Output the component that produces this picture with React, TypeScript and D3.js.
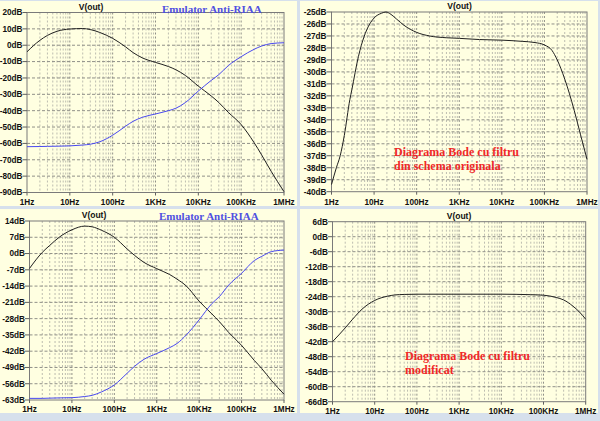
import React from "react";
import * as d3 from "d3";

const freqTicks = [1, 10, 100, 1e3, 1e4, 1e5, 1e6];
const freqLabels = ["1Hz", "10Hz", "100Hz", "1KHz", "10KHz", "100KHz", "1MHz"];

// Panel 1 (top-left)
const p1Freq = [1, 2, 3, 5, 10, 20, 30, 50, 100, 200, 300, 500, 1e3, 2e3, 3e3, 5e3, 1e4, 2e4, 3e4, 5e4, 1e5, 2e5, 3e5, 5e5, 1e6];
const p1Black = [-4, 3, 6, 8.5, 9.9, 10.2, 9.6, 7.8, 4.2, -1, -4.5, -7.8, -10.5, -13, -15, -18.5, -25, -31, -35, -41, -48.5, -59.5, -67, -77, -89.5];
const p1Blue = [-62, -61.9, -61.8, -61.7, -61.5, -61, -60.5, -59, -55, -49.5, -46.5, -44, -42, -40, -38.5, -35, -28, -21.5, -18, -12.5, -7, -2.5, -0.5, 1, 1.5];
const p1YTicks = [20, 10, 0, -10, -20, -30, -40, -50, -60, -70, -80, -90];

// Panel 2 (top-right)
const p2Freq = [1, 1.3, 1.6, 2, 2.7, 3, 4.3, 5, 6.7, 10, 15, 19, 25, 34, 50, 100, 200, 500, 1e3, 3e3, 1e4, 3e4, 6e4, 1e5, 1.5e5, 2e5, 3e5, 5e5, 7e5, 1e6];
const p2Black = [-39.4, -38, -37, -35.3, -32.3, -31.5, -28.7, -27.8, -26.5, -25.5, -25.1, -25.0, -25.2, -25.6, -26.1, -26.7, -27.0, -27.15, -27.2, -27.3, -27.35, -27.45, -27.55, -27.75, -28.2, -29, -30.6, -33.2, -35.2, -37.3];
const p2YTicks = [-25, -26, -27, -28, -29, -30, -31, -32, -33, -34, -35, -36, -37, -38, -39, -40];

// Panel 3 (bottom-left)
const p3Freq = [1, 2, 3, 5, 10, 20, 30, 50, 100, 200, 300, 500, 1e3, 2e3, 3e3, 5e3, 1e4, 2e4, 3e4, 5e4, 1e5, 2e5, 3e5, 5e5, 1e6];
const p3Black = [-6.4, 0.5, 3.5, 7, 10.2, 11.8, 11.5, 10, 7, 2, -0.8, -3.8, -6.5, -9, -11, -14, -20.5, -26, -29.3, -34, -39.5, -46, -49.5, -54.5, -60.5];
const p3Blue = [-62.3, -62.3, -62.2, -62.1, -62, -61.5, -61, -59.5, -56.5, -51.5, -48.5, -45.5, -43, -40.5, -38.7, -35, -28.5, -21.5, -18.5, -13.5, -8.5, -3, -1.2, 0.8, 1.5];
const p3YTicks = [14, 7, 0, -7, -14, -21, -28, -35, -42, -49, -56, -63];

// Panel 4 (bottom-right)
const p4Freq = [1, 2, 3, 5, 10, 20, 30, 50, 100, 1e3, 1e4, 5e4, 1e5, 2e5, 3e5, 5e5, 7e5, 1e6];
const p4Black = [-42, -36.5, -33, -29, -25.5, -23.8, -23.3, -23.1, -23, -23, -23, -23.2, -23.4, -24.3, -25.3, -27.8, -30, -33];
const p4YTicks = [6, 0, -6, -12, -18, -24, -30, -36, -42, -48, -54, -60, -66];

const minorFreqs: number[] = [];
for (let d = 1; d < 1e6; d *= 10) for (let k = 2; k <= 9; k++) minorFreqs.push(d * k);

type Series = { freq: number[]; values: number[]; color: string };

type PanelProps = {
  box: [number, number, number, number];
  plot: [number, number, number, number];
  yTicks: number[];
  series: Series[];
  titleX: number;
  blueTitle?: [number, number];
  redText?: [number, number, string, string];
  labelRight: number;
  xLabelY: number;
};

const tickFont = "'Liberation Sans', Arial, sans-serif";
const serifFont = "'Liberation Serif', 'Times New Roman', serif";
const tickSize = 8.2;

function Panel(p: PanelProps) {
  const [l, t, r, b] = p.plot;
  const x = d3.scaleLog().domain([1, 1e6]).range([l, r]);
  const y = d3.scaleLinear().domain([p.yTicks[p.yTicks.length - 1], p.yTicks[0]]).range([b, t]);
  const [bx, by, bw, bh] = p.box;
  return (
    <g>
      <rect x={bx} y={by} width={bw} height={bh} fill="#FFFFE1" />
      {minorFreqs.map((f, i) => (
        <line key={"m" + i} x1={x(f)} x2={x(f)} y1={t} y2={b} stroke="#A8A8A0" strokeWidth={1} strokeDasharray="2,2" opacity={0.75} />
      ))}
      {freqTicks.slice(1, -1).map((f, i) => (
        <line key={"M" + i} x1={x(f)} x2={x(f)} y1={t} y2={b} stroke="#909088" strokeWidth={1} strokeDasharray="2,2" />
      ))}
      {p.yTicks.slice(1, -1).map((v, i) => (
        <line key={"h" + i} x1={l} x2={r} y1={y(v)} y2={y(v)} stroke="#909088" strokeWidth={1} strokeDasharray="3,2" />
      ))}
      <rect x={l} y={t} width={r - l} height={b - t} fill="none" stroke="#7A7A7A" strokeWidth={1} />
      {p.yTicks.map((v, i) => (
        <g key={"yt" + i}>
          <line x1={p.labelRight} x2={l} y1={y(v)} y2={y(v)} stroke="#606060" strokeWidth={1} />
          <text x={p.labelRight} y={y(v)} dy="0.35em" textAnchor="end" fontFamily={tickFont} fontWeight="bold" fontSize={tickSize} fill="#111">
            {v + "dB"}
          </text>
        </g>
      ))}
      {freqTicks.map((f, i) => (
        <g key={"xt" + i}>
          <line x1={x(f)} x2={x(f)} y1={b} y2={b + 3} stroke="#606060" strokeWidth={1} />
          <text x={x(f)} y={p.xLabelY} textAnchor="middle" fontFamily={tickFont} fontWeight="bold" fontSize={tickSize} fill="#111">
            {freqLabels[i]}
          </text>
        </g>
      ))}
      {p.series.map((s, i) => {
        const line = d3
          .line<number>()
          .x((_, j) => x(s.freq[j]))
          .y((v) => y(v))
          .curve(d3.curveMonotoneX);
        return <path key={"s" + i} d={line(s.values) || ""} fill="none" stroke={s.color} strokeWidth={1} />;
      })}
      <text x={p.titleX} y={t - 3} textAnchor="middle" fontFamily={tickFont} fontWeight="bold" fontSize={8.5} fill="#111">
        V(out)
      </text>
      {p.blueTitle && (
        <text x={p.blueTitle[0]} y={p.blueTitle[1]} fontFamily={serifFont} fontWeight="bold" fontSize={11} fill="#5050E0">
          Emulator Anti-RIAA
        </text>
      )}
      {p.redText && (
        <g fontFamily={serifFont} fontWeight="bold" fontSize={12} fill="#F02828">
          <text x={p.redText[0]} y={p.redText[1]}>{p.redText[2]}</text>
          <text x={p.redText[0]} y={p.redText[1] + 13.5}>{p.redText[3]}</text>
        </g>
      )}
    </g>
  );
}

export default function App() {
  return (
    <svg width={600} height={421} style={{ position: "absolute", left: 0, top: 0, display: "block" }}>
      <rect x={0} y={0} width={600} height={421} fill="#D6E0EC" />
      <Panel
        box={[0, 1, 297, 205]}
        plot={[27, 12.5, 284, 192.5]}
        yTicks={p1YTicks}
        series={[
          { freq: p1Freq, values: p1Black, color: "#202020" },
          { freq: p1Freq, values: p1Blue, color: "#4848F0" },
        ]}
        titleX={91}
        blueTitle={[162, 13]}
        labelRight={22.5}
        xLabelY={204.5}
      />
      <Panel
        box={[300, 1, 298, 205]}
        plot={[331.5, 12, 587, 191.7]}
        yTicks={p2YTicks}
        series={[{ freq: p2Freq, values: p2Black, color: "#202020" }]}
        titleX={459.5}
        redText={[394, 156, "Diagrama Bode cu filtru", "din schema originala"]}
        labelRight={326.5}
        xLabelY={204.5}
      />
      <Panel
        box={[0, 209, 297, 204]}
        plot={[29.5, 221, 284, 400]}
        yTicks={p3YTicks}
        series={[
          { freq: p3Freq, values: p3Black, color: "#202020" },
          { freq: p3Freq, values: p3Blue, color: "#4848F0" },
        ]}
        titleX={94}
        blueTitle={[159, 219.5]}
        labelRight={25}
        xLabelY={412}
      />
      <Panel
        box={[300, 209, 298, 204]}
        plot={[332.5, 221.7, 585.7, 401.7]}
        yTicks={p4YTicks}
        series={[{ freq: p4Freq, values: p4Black, color: "#202020" }]}
        titleX={459}
        redText={[405, 360, "Diagrama Bode cu filtru", "modificat"]}
        labelRight={328}
        xLabelY={413.5}
      />
    </svg>
  );
}
